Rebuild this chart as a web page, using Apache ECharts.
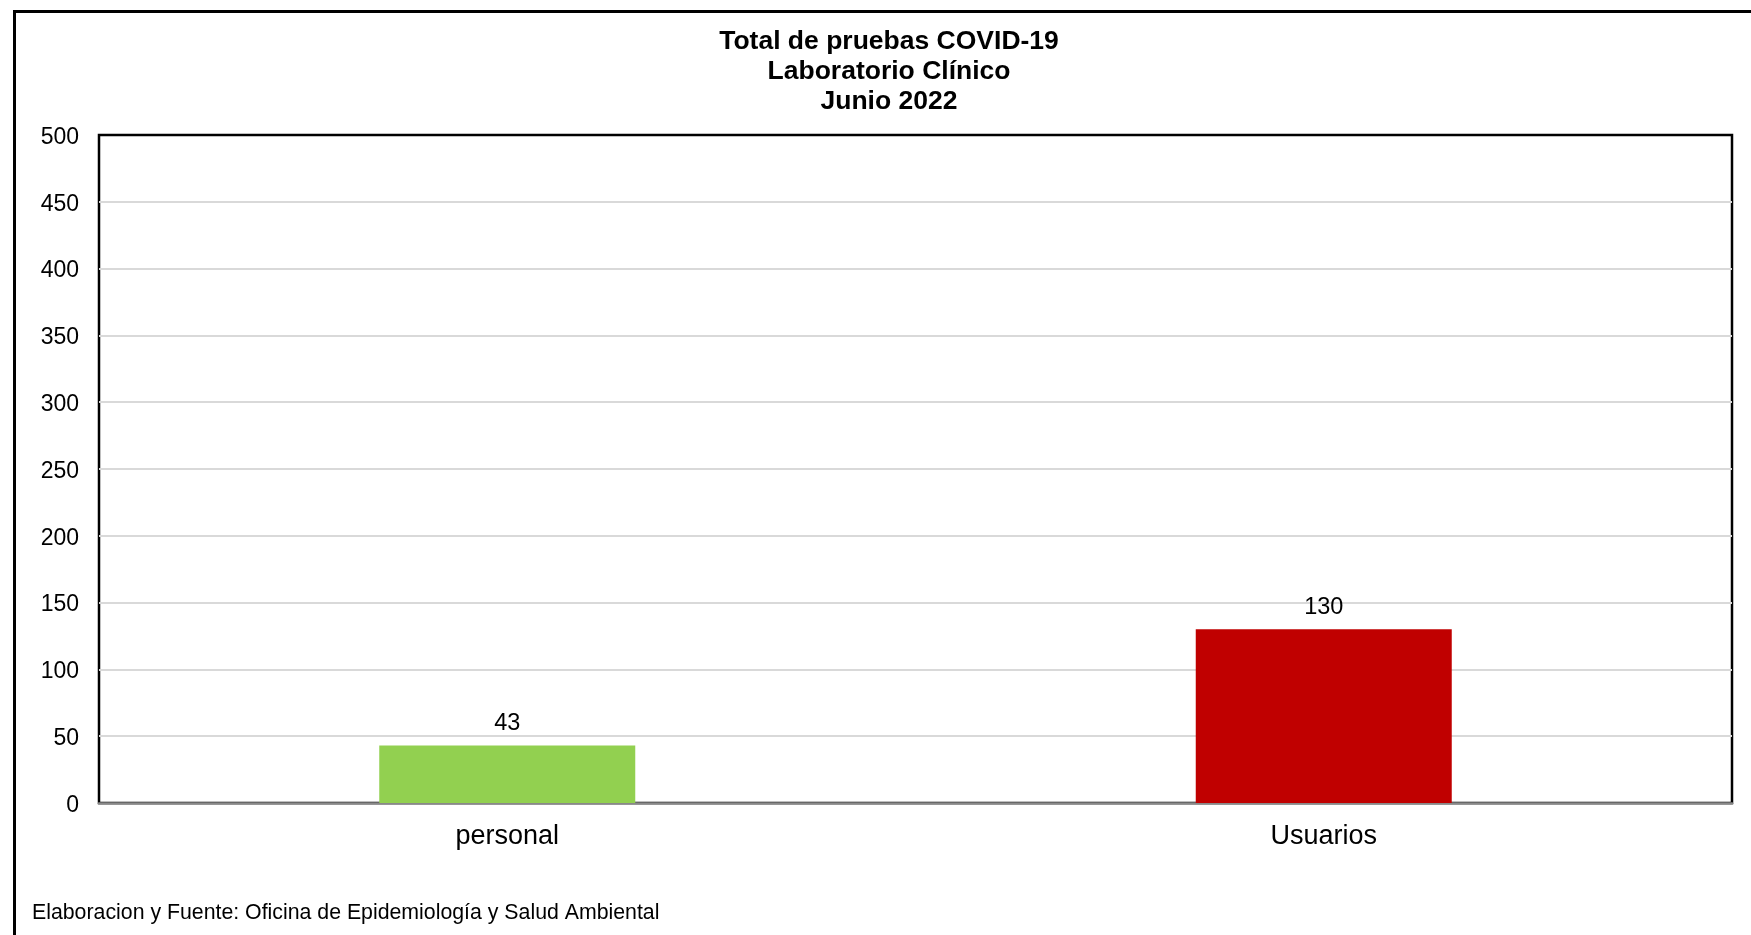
<!DOCTYPE html>
<html>
<head>
<meta charset="utf-8">
<title>Total de pruebas COVID-19</title>
<script src="https://cdn.jsdelivr.net/npm/echarts@6/dist/echarts.min.js"></script>
<style>
  html, body { margin: 0; padding: 0; background: #FFFFFF; }
  #chart { width: 1751px; height: 935px; }
</style>
</head>
<body>
<div id="chart"></div>
<script>
// datos
var categories = ['personal', 'Usuarios'];
var pruebas = [43, 130];
var barColors = ['#92D050', '#C00000'];
var yMin = 0, yMax = 500, yStep = 50;

var titleText = 'Total de pruebas COVID-19\nLaboratorio Clínico\nJunio 2022';
var sourceText = 'Elaboracion y Fuente: Oficina de Epidemiología y Salud Ambiental';

var font = '"Liberation Sans", Arial, sans-serif';

var chart = echarts.init(document.getElementById('chart'));
chart.setOption({
  animation: false,
  backgroundColor: '#FFFFFF',
  title: {
    text: titleText,
    left: 889,
    top: 27,
    padding: 0,
    textAlign: 'center',
    textStyle: {
      fontFamily: font,
      fontSize: 26.5,
      fontWeight: 'bold',
      color: '#000',
      lineHeight: 30
    }
  },
  grid: {
    left: 99,
    right: 19,
    top: 135,
    bottom: 132,
    show: true,
    borderColor: '#000',
    borderWidth: 2.5,
    backgroundColor: 'transparent'
  },
  xAxis: {
    type: 'category',
    data: categories,
    axisLine: { show: true, lineStyle: { color: '#898989', width: 2.5 } },
    axisTick: { show: false },
    axisLabel: {
      fontFamily: font,
      fontSize: 27,
      color: '#000',
      margin: 20
    }
  },
  yAxis: {
    type: 'value',
    min: yMin,
    max: yMax,
    interval: yStep,
    axisLine: { show: false },
    axisTick: { show: false },
    axisLabel: {
      color: '#000',
      margin: 20,
      formatter: '{v|{value}}',
      rich: {
        v: {
          fontFamily: font,
          fontSize: 23,
          color: '#000',
          padding: [5, 0, 0, 0]
        }
      }
    },
    splitLine: {
      showMinLine: false,
      showMaxLine: false,
      lineStyle: { color: '#d9d9d9', width: 2 }
    }
  },
  series: [
    {
      type: 'bar',
      data: pruebas,
      barWidth: 256,
      itemStyle: {
        color: function (p) { return barColors[p.dataIndex]; }
      },
      label: {
        show: true,
        position: 'top',
        distance: 10,
        fontFamily: font,
        fontSize: 23.5,
        color: '#000'
      }
    }
  ],
  graphic: [
    {
      type: 'rect',
      left: 12,
      top: 9,
      shape: { width: 1800, height: 1000 },
      style: { fill: 'none', stroke: '#000', lineWidth: 3 },
      silent: true
    },
    {
      type: 'text',
      left: 32,
      top: 903,
      style: {
        text: sourceText,
        font: '21.3px ' + font,
        fill: '#000'
      }
    }
  ]
});
</script>
</body>
</html>
